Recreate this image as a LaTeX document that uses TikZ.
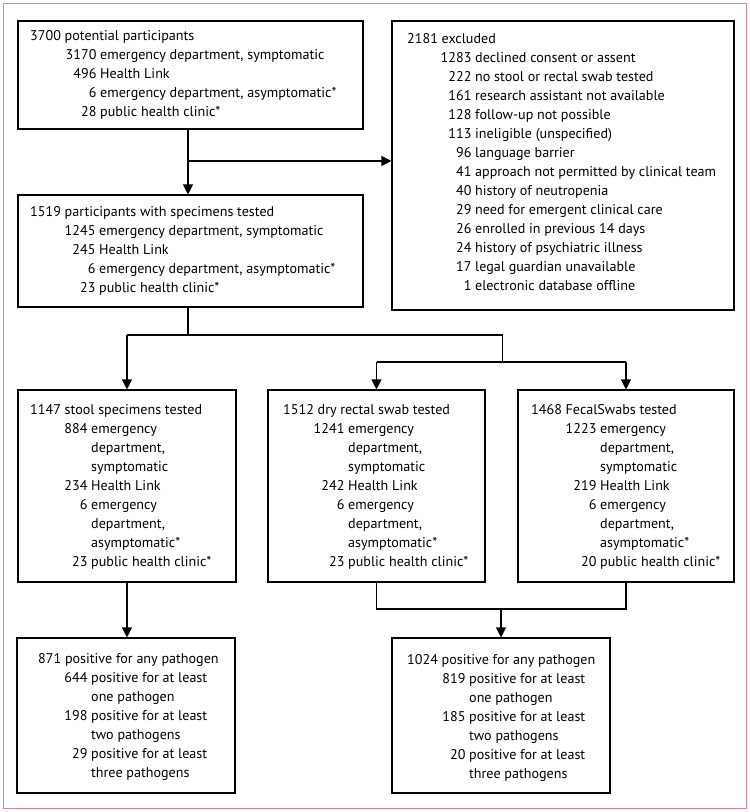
\documentclass[tikz,border=0pt]{standalone}
\usepackage{fontspec}
\setmainfont{PT Sans}
\usetikzlibrary{arrows.meta}
\definecolor{framepink}{RGB}{221,128,158}
\newlength{\colw}
\newcommand{\rowe}[2]{\makebox[\colw][r]{#1\ }#2}
\newcommand{\cont}[1]{\hspace*{\colw}#1}
\newcommand{\blk}[2]{\parbox[t]{330pt}{\fontsize{14.1}{19}\selectfont\setlength{\colw}{#1}\raggedright #2}}
\begin{document}
\begin{tikzpicture}[x=1pt,y=-1pt,
  box/.style={draw=black,line width=1.1pt,rectangle,inner sep=0pt,fill=none},
  txt/.style={anchor=base west,inner sep=0pt},
  conn/.style={line width=1.1pt,black},
  arr/.style={conn,-{Triangle[width=10pt,length=10pt]}}]
\useasboundingbox (0,0) rectangle (750,812);
\fill[white] (0,0) rectangle (750,812);
\draw[framepink,line width=1pt] (3,3) rectangle (746,808);

% boxes
\node[box,minimum width=345pt,minimum height=108pt] (b1) at (190.5,75) {};
\node[box,minimum width=342pt,minimum height=289pt] (b2) at (563,165.5) {};
\node[box,minimum width=345pt,minimum height=112pt] (b3) at (190.5,251) {};
\node[box,minimum width=218pt,minimum height=192pt] (b4) at (127,486) {};
\node[box,minimum width=217pt,minimum height=192pt] (b5) at (376.5,486) {};
\node[box,minimum width=216pt,minimum height=192pt] (b6) at (626,486) {};
\node[box,minimum width=218pt,minimum height=155pt] (b7) at (126,715.5) {};
\node[box,minimum width=218pt,minimum height=155pt] (b8) at (501,715.5) {};

% texts
\node[txt] (t1) at (30,40) {\blk{70pt}{3700 potential participants\\
\rowe{3170}{emergency department, symptomatic}\\
\rowe{496}{Health Link}\\
\rowe{6}{emergency department, asymptomatic*}\\
\rowe{28}{public health clinic*}}};

\node[txt] (t2) at (407,43) {\blk{68pt}{2181 excluded\\
\rowe{1283}{declined consent or assent}\\
\rowe{222}{no stool or rectal swab tested}\\
\rowe{161}{research assistant not available}\\
\rowe{128}{follow-up not possible}\\
\rowe{113}{ineligible (unspecified)}\\
\rowe{96}{language barrier}\\
\rowe{41}{approach not permitted by clinical team}\\
\rowe{40}{history of neutropenia}\\
\rowe{29}{need for emergent clinical care}\\
\rowe{26}{enrolled in previous 14 days}\\
\rowe{24}{history of psychiatric illness}\\
\rowe{17}{legal guardian unavailable}\\
\rowe{1}{electronic database offline}}};

\node[txt] (t3) at (30,216) {\blk{69pt}{1519 participants with specimens tested\\
\rowe{1245}{emergency department, symptomatic}\\
\rowe{245}{Health Link}\\
\rowe{6}{emergency department, asymptomatic*}\\
\rowe{23}{public health clinic*}}};

\node[txt] (t4) at (30,414) {\blk{61pt}{1147 stool specimens tested\\
\rowe{884}{emergency}\\
\cont{department,}\\
\cont{symptomatic}\\
\rowe{234}{Health Link}\\
\rowe{6}{emergency}\\
\cont{department,}\\
\cont{asymptomatic*}\\
\rowe{23}{public health clinic*}}};

\node[txt] (t5) at (283,414) {\blk{65pt}{1512 dry rectal swab tested\\
\rowe{1241}{emergency}\\
\cont{department,}\\
\cont{symptomatic}\\
\rowe{242}{Health Link}\\
\rowe{6}{emergency}\\
\cont{department,}\\
\cont{asymptomatic*}\\
\rowe{23}{public health clinic*}}};

\node[txt] (t6) at (531,414) {\blk{69pt}{1468 FecalSwabs tested\\
\rowe{1223}{emergency}\\
\cont{department,}\\
\cont{symptomatic}\\
\rowe{219}{Health Link}\\
\rowe{6}{emergency}\\
\cont{department,}\\
\cont{asymptomatic*}\\
\rowe{20}{public health clinic*}}};

\node[txt] (t7) at (38,663) {\blk{53pt}{871 positive for any pathogen\\
\rowe{644}{positive for at least}\\
\cont{one pathogen}\\
\rowe{198}{positive for at least}\\
\cont{two pathogens}\\
\rowe{29}{positive for at least}\\
\cont{three pathogens}}};

\node[txt] (t8) at (407,664) {\blk{62pt}{1024 positive for any pathogen\\
\rowe{819}{positive for at least}\\
\cont{one pathogen}\\
\rowe{185}{positive for at least}\\
\cont{two pathogens}\\
\rowe{20}{positive for at least}\\
\cont{three pathogens}}};

% connectors
\coordinate (j1) at (188,161);
\draw[arr] (b1.south -| j1) -- (b3.north -| j1);
\draw[arr] (j1) -- (j1 -| b2.west);

\coordinate (j2) at (188,335);
\coordinate (j2l) at (127,335);
\coordinate (j2r) at (502.5,335);
\coordinate (j3) at (502.5,362);
\coordinate (j3l) at (376.5,362);
\coordinate (j3r) at (626,362);
\draw[conn] (b3.south -| j2) -- (j2);
\draw[conn] (j2l) -- (j2r) -- (j3);
\draw[arr] (j2l) -- (b4.north);
\draw[conn] (j3l) -- (j3r);
\draw[arr] (j3l) -- (b5.north);
\draw[arr] (j3r) -- (b6.north);

\draw[arr] (b4.south) -- (b4.south |- b7.north);
\coordinate (j4) at (501,609);
\draw[conn] (b5.south) -- (b5.south |- j4) -- (b6.south |- j4) -- (b6.south);
\draw[arr] (j4) -- (b8.north);
\end{tikzpicture}
\end{document}
